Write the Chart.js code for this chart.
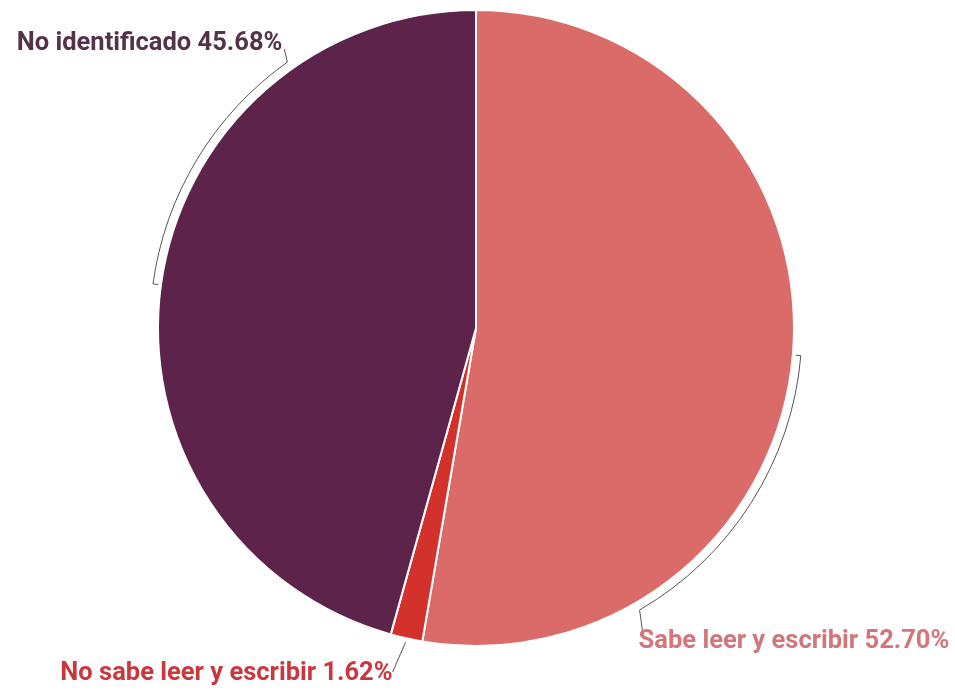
<!DOCTYPE html>
<html>
<head>
<meta charset="utf-8">
<script src="https://cdn.jsdelivr.net/npm/chart.js@4"></script>
<style>
  html, body { margin: 0; padding: 0; background: #fff; }
  #wrap { width: 955px; height: 693px; }
</style>
</head>
<body>
<div id="wrap"><canvas id="pie" width="955" height="693"></canvas></div>
<script>
'use strict';

const categories = ['Sabe leer y escribir', 'No sabe leer y escribir', 'No identificado'];
const shares = [52.70, 1.62, 45.68];
const sliceColors = ['#DB6B69', '#D3322C', '#5D234B'];
const labelColors = ['#D2767B', '#C8383D', '#543349'];

// bracket span as a fraction of the slice (null = plain leader at the middle)
const brackets = [[0.5, 0.79], null, [0.5, 0.785]];
// leader end and text anchor, relative to the bracket end point
const leaders = [[4, 29], [-13, 30], [-3, -13]];
const textAnchors = [[-1, 38, 'left'], [-13, 38, 'right'], [-5, -12, 'right']];

const bracketLabels = {
	id: 'bracketLabels',
	afterDraw(chart) {
		const {ctx} = chart;
		const arcs = chart.getDatasetMeta(0).data;
		ctx.save();
		ctx.font = 'bold 25.5px Roboto';
		ctx.textBaseline = 'alphabetic';
		arcs.forEach((arc, i) => {
			const {x, y, startAngle, endAngle, outerRadius} = arc.getProps(['x', 'y', 'startAngle', 'endAngle', 'outerRadius'], true);
			const rArc = outerRadius + 8;
			const rTick = outerRadius + 3;
			let endX, endY;
			ctx.strokeStyle = '#555';
			ctx.lineWidth = 1;
			ctx.beginPath();
			if (brackets[i]) {
				const a0 = startAngle + (endAngle - startAngle) * brackets[i][0];
				const a1 = startAngle + (endAngle - startAngle) * brackets[i][1];
				ctx.moveTo(x + rTick * Math.cos(a0), y + rTick * Math.sin(a0));
				ctx.lineTo(x + rArc * Math.cos(a0), y + rArc * Math.sin(a0));
				ctx.arc(x, y, rArc, a0, a1);
				endX = x + rArc * Math.cos(a1);
				endY = y + rArc * Math.sin(a1);
			} else {
				const mid = (startAngle + endAngle) / 2;
				endX = x + (outerRadius + 4) * Math.cos(mid);
				endY = y + (outerRadius + 4) * Math.sin(mid);
				ctx.moveTo(endX, endY);
			}
			ctx.lineTo(endX + leaders[i][0], endY + leaders[i][1]);
			ctx.stroke();

			ctx.fillStyle = labelColors[i];
			ctx.textAlign = textAnchors[i][2];
			ctx.fillText(categories[i] + ' ' + shares[i].toFixed(2) + '%', endX + textAnchors[i][0], endY + textAnchors[i][1]);
		});
		ctx.restore();
	},
};

const setUpChart = () => {
	const ctx = document.getElementById('pie').getContext('2d');
	new Chart(ctx, {
		type: 'pie',
		data: {
			labels: categories,
			datasets: [{
				data: shares,
				backgroundColor: sliceColors,
				borderColor: '#ffffff',
				borderWidth: 2,
			}],
		},
		options: {
			responsive: false,
			animation: false,
			layout: {padding: {top: 9, bottom: 46, left: 0, right: 3}},
			plugins: {
				legend: {display: false},
				tooltip: {enabled: false},
			},
		},
		plugins: [bracketLabels],
	});
}

setUpChart();
</script>
</body>
</html>
